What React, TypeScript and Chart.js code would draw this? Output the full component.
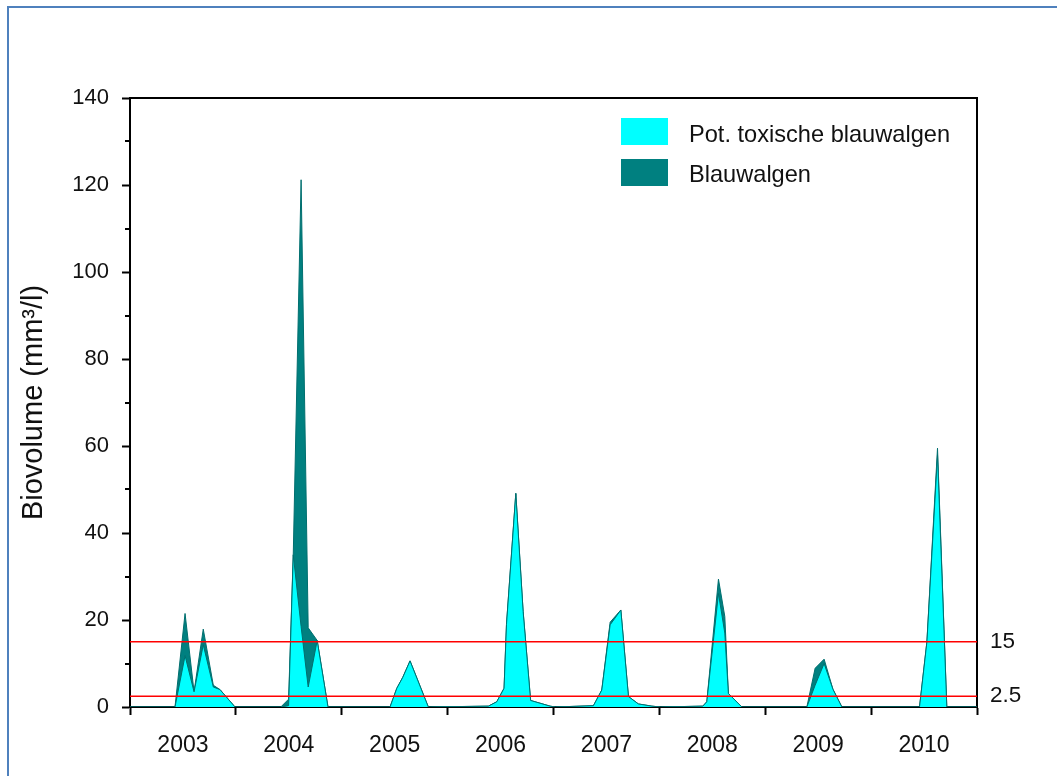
import { useEffect, useRef } from "react";
import { Chart, registerables } from "chart.js";

Chart.register(...registerables);

const FONT = "'Liberation Sans', Arial, sans-serif";

// Year categories shown on the x axis
const years = ["2003", "2004", "2005", "2006", "2007", "2008", "2009", "2010"];

// Sampling dates (decimal years)
const sampleDates = [
  2003.0, 2003.425, 2003.52, 2003.605, 2003.692, 2003.787, 2003.85, 2003.992,
  2004.424, 2004.498, 2004.542, 2004.616, 2004.683, 2004.768, 2004.87,
  2005.456, 2005.52, 2005.576, 2005.645, 2005.818,
  2006.385, 2006.464, 2006.533, 2006.556, 2006.644, 2006.713, 2006.784, 2006.968,
  2007.015, 2007.377, 2007.456, 2007.535, 2007.636, 2007.708, 2007.802, 2007.929,
  2008.007, 2008.41, 2008.448, 2008.558, 2008.618, 2008.652, 2008.779,
  2009.393, 2009.471, 2009.556, 2009.639, 2009.724,
  2010.457, 2010.527, 2010.627, 2010.715, 2011.0,
];

// Blauwalgen (total cyanobacteria biovolume, mm3/l)
const totalBiovolume = [
  0, 0, 21.5, 3.5, 17.9, 5.0, 4.0, 0,
  0, 1.8, 35, 121.2, 18.2, 15.3, 0,
  0, 4.3, 6.8, 10.6, 0,
  0.2, 1.2, 4.3, 19, 49.1, 22, 1.5, 0.2,
  0, 0.3, 3.9, 19.5, 22.3, 2.4, 0.7, 0.2,
  0, 0.2, 1.2, 29.4, 20.8, 3.1, 0,
  0, 8.9, 11.0, 4.1, 0,
  0, 15, 59.5, 0, 0,
];

// Pot. toxische blauwalgen (mm3/l)
const toxicBiovolume = [
  0, 0, 11.8, 3.5, 14.3, 4.6, 4.0, 0,
  0, 0.3, 35, 18.5, 4.6, 15.3, 0,
  0, 4.3, 6.8, 10.6, 0,
  0.2, 1.2, 4.3, 19, 49.1, 22, 1.5, 0.2,
  0, 0.3, 3.9, 18.9, 22.3, 2.4, 0.7, 0.2,
  0, 0.2, 1.2, 26.1, 17.0, 3.1, 0,
  0, 5.0, 10.0, 4.1, 0,
  0, 15, 58, 0, 0,
];

// Threshold lines
const thresholds = [15, 2.5];
const thresholdLabels = ["15", "2.5"];

const seriesNames = ["Pot. toxische blauwalgen", "Blauwalgen"];
const yMinorTicks = [10, 30, 50, 70, 90, 110, 130];

const CYAN = "#00FFFF";
const TEAL = "#008080";
const OUTLINE = "#006f6f";

export default function App() {
  const canvasRef = useRef<HTMLCanvasElement | null>(null);

  useEffect(() => {
    document.body.style.margin = "0";
    const canvas = canvasRef.current;
    if (!canvas) return;

    const framePlugin = {
      id: "frameAndLegend",
      beforeDraw(chart: any) {
        const ctx = chart.ctx;
        ctx.save();
        ctx.fillStyle = "#ffffff";
        ctx.fillRect(0, 0, chart.width, chart.height);
        ctx.strokeStyle = "#4f81bd";
        ctx.lineWidth = 2;
        ctx.strokeRect(8, 7, 1200, 1000);
        ctx.restore();
      },
      afterDraw(chart: any) {
        const ctx = chart.ctx;
        const area = chart.chartArea;
        const y = chart.scales.y;
        ctx.save();
        // top border of the plot box
        ctx.strokeStyle = "#000";
        ctx.lineWidth = 2;
        ctx.beginPath();
        ctx.moveTo(area.left - 1, area.top);
        ctx.lineTo(area.right + 1, area.top);
        ctx.stroke();
        // minor ticks on y axis
        ctx.lineWidth = 2;
        for (const v of yMinorTicks) {
          const py = Math.round(y.getPixelForValue(v));
          ctx.beginPath();
          ctx.moveTo(area.left - 5, py);
          ctx.lineTo(area.left, py);
          ctx.stroke();
        }
        // legend
        const colors = [CYAN, TEAL];
        const tops = [118, 159];
        const baselines = [142, 182];
        ctx.font = `23.6px ${FONT}`;
        ctx.textBaseline = "alphabetic";
        ctx.textAlign = "left";
        seriesNames.forEach((name, i) => {
          ctx.fillStyle = colors[i];
          ctx.fillRect(621, tops[i], 47, 27);
          ctx.fillStyle = "#111";
          ctx.fillText(name, 689, baselines[i]);
        });
        ctx.restore();
      },
    };

    const toPoints = (vals: number[]) =>
      sampleDates.map((d, i) => ({ x: d, y: vals[i] }));

    const chart = new Chart(canvas, {
      type: "line",
      data: {
        datasets: [
          ...thresholds.map((t) => ({
            label: "threshold " + t,
            data: [
              { x: 2003, y: t },
              { x: 2011, y: t },
            ],
            borderColor: "#ff0000",
            borderWidth: 1.5,
            pointRadius: 0,
            fill: false,
            tension: 0,
          })),
          {
            label: seriesNames[0],
            data: toPoints(toxicBiovolume),
            borderColor: OUTLINE,
            borderWidth: 1,
            backgroundColor: CYAN,
            pointRadius: 0,
            fill: "origin",
            tension: 0,
          },
          {
            label: seriesNames[1],
            data: toPoints(totalBiovolume),
            borderColor: OUTLINE,
            borderWidth: 1,
            backgroundColor: TEAL,
            pointRadius: 0,
            fill: "origin",
            tension: 0,
          },
        ],
      },
      options: {
        animation: false,
        responsive: false,
        events: [],
        layout: { padding: { top: 98, left: 0, right: 0, bottom: 0 } },
        plugins: {
          legend: { display: false },
          tooltip: { enabled: false },
          title: { display: false },
        },
        scales: {
          x: {
            type: "linear",
            min: 2003,
            max: 2011,
            display: false,
          },
          years: {
            type: "category",
            axis: "x",
            position: "bottom",
            labels: years,
            offset: true,
            grid: {
              offset: true,
              drawOnChartArea: false,
              drawTicks: true,
              tickLength: 8,
              tickWidth: 2,
              tickColor: "#000",
            },
            border: { display: true, color: "#000", width: 2 },
            ticks: {
              color: "#111",
              font: { family: FONT, size: 23 },
              padding: 17,
              maxRotation: 0,
              autoSkip: false,
            },
            afterFit: (s: any) => {
              s.height = 69;
            },
          },
          y: {
            type: "linear",
            position: "left",
            min: 0,
            max: 140,
            ticks: {
              stepSize: 20,
              color: "#111",
              font: { family: FONT, size: 22 },
              padding: 13,
            },
            grid: {
              drawOnChartArea: false,
              drawTicks: true,
              tickLength: 8,
              tickWidth: 2,
              tickColor: "#000",
            },
            border: { display: true, color: "#000", width: 2 },
            title: {
              display: true,
              text: "Biovolume (mm³/l)",
              color: "#111",
              font: { family: FONT, size: 29 },
              padding: { top: 17, bottom: 0 },
            },
            afterFit: (s: any) => {
              s.width = 130;
            },
          },
          y2: {
            type: "linear",
            position: "right",
            min: 0,
            max: 140,
            afterBuildTicks: (s: any) => {
              s.ticks = thresholds.map((v) => ({ value: v }));
            },
            ticks: {
              color: "#111",
              font: { family: FONT, size: 22.5 },
              padding: 13,
              callback: (v: any) => {
                const i = thresholds.indexOf(Number(v));
                return i >= 0 ? thresholdLabels[i] : "";
              },
            },
            grid: { display: false, drawTicks: false },
            border: { display: true, color: "#000", width: 2 },
            afterFit: (s: any) => {
              s.width = 80;
            },
          },
        },
      } as any,
      plugins: [framePlugin],
    });

    return () => chart.destroy();
  }, []);

  return (
    <div style={{ position: "absolute", left: 0, top: 0, width: 1057, height: 776 }}>
      <canvas ref={canvasRef} width={1057} height={776} style={{ display: "block" }} />
    </div>
  );
}
